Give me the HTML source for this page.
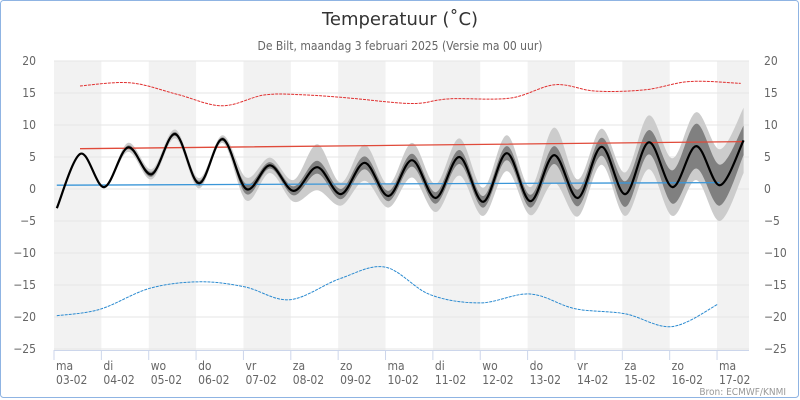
<!DOCTYPE html>
<html><head><meta charset="utf-8"><style>
body{margin:0;background:#fff}
svg{display:block;font-family:"DejaVu Sans Condensed","DejaVu Sans","Liberation Sans",sans-serif}
</style></head><body>
<svg id="chart" width="800" height="400" viewBox="0 0 800 400">
<rect x="0.5" y="0.5" width="798" height="397" rx="3" fill="#fff" stroke="#8fb4e3"/>
<text x="400" y="25" text-anchor="middle" font-size="18" fill="#333" font-family="DejaVu Sans, sans-serif">Temperatuur (˚C)</text>
<text x="400" y="50" text-anchor="middle" font-size="12" fill="#666">De Bilt, maandag 3 februari 2025 (Versie ma 00 uur)</text>
<g id="bands"></g><g id="grid"></g><g id="series"></g><g id="axes"></g>
<text x="786" y="395" text-anchor="end" font-size="10" fill="#999">Bron: ECMWF/KNMI</text>
</svg>
<script>
const dayNames=["ma","di","wo","do","vr","za","zo","ma","di","wo","do","vr","za","zo","ma"];
const dates=["03-02","04-02","05-02","06-02","07-02","08-02","09-02","10-02","11-02","12-02","13-02","14-02","15-02","16-02","17-02"];
const yTicks=[20,15,10,5,0,-5,-10,-15,-20,-25];
const meanTimes=[0.06,0.56,1.06,1.56,2.06,2.56,3.06,3.56,4.06,4.56,5.06,5.56,6.06,6.56,7.06,7.56,8.06,8.56,9.06,9.56,10.06,10.56,11.06,11.56,12.06,12.56,13.06,13.56,14.06,14.56];
const meanVals=[-3.0,5.5,0.3,6.5,2.3,8.6,0.9,7.8,0.0,3.7,-0.3,3.4,-0.8,4.1,-1.1,4.5,-1.4,5.0,-2.0,5.6,-1.9,5.3,-1.4,6.6,-0.8,7.3,0.3,6.7,0.6,7.6];
const outerSpread=[0,0,0.2,0.7,0.8,0.7,0.8,0.6,1.8,1.2,1.7,3.6,1.8,2.8,1.8,2.7,2.2,2.9,2.2,2.8,2.2,4.3,2.9,2.8,3.4,4.2,4.5,5.3,5.6,5.1];
const innerSpread=[0,0,0.1,0.3,0.4,0.3,0.4,0.3,0.8,0.5,0.7,1.0,0.8,1.0,0.8,1.0,0.9,1.1,0.9,1.1,1.0,1.4,1.3,1.4,2.0,1.9,2.6,3.5,3.2,2.3];
const normMaxTimes=[0.55,14.55];const normMaxVals=[6.3,7.4];
const normMinTimes=[0.06,14.05];const normMinVals=[0.6,1.0];
const recMaxTimes=[0.55,1.6,2.6,3.55,4.45,5.3,6.25,7.2,7.73,8.36,9.63,10.58,11.43,12.48,13.43,14.5];
const recMaxVals=[16.1,16.6,14.8,13.0,14.7,14.7,14.2,13.5,13.4,14.1,14.2,16.3,15.3,15.5,16.8,16.5];
const recMinTimes=[0.06,0.97,2.03,3.08,4.03,4.98,6.04,6.99,7.94,9.0,10.05,11.0,12.06,13.05,14.02];
const recMinVals=[-19.8,-18.8,-15.5,-14.5,-15.3,-17.3,-14.0,-12.2,-16.5,-17.8,-16.4,-18.7,-19.5,-21.5,-18.0];

const X0=54,DW=47.36,XR=749;
const xs=d=>X0+d*DW, ys=v=>189-v*6.4;
const NS="http://www.w3.org/2000/svg";
function mk(tag,attrs,parent){const e=document.createElementNS(NS,tag);for(const k in attrs)e.setAttribute(k,attrs[k]);document.getElementById(parent).appendChild(e);return e;}
function spline(pts){let d="M"+pts[0][0].toFixed(1)+","+pts[0][1].toFixed(1);
 for(let i=0;i<pts.length-1;i++){const p0=pts[Math.max(0,i-1)],p1=pts[i],p2=pts[i+1],p3=pts[Math.min(pts.length-1,i+2)];
 const c1=[p1[0]+(p2[0]-p0[0])/6,p1[1]+(p2[1]-p0[1])/6],c2=[p2[0]-(p3[0]-p1[0])/6,p2[1]-(p3[1]-p1[1])/6];
 d+="C"+c1[0].toFixed(1)+","+c1[1].toFixed(1)+" "+c2[0].toFixed(1)+","+c2[1].toFixed(1)+" "+p2[0].toFixed(1)+","+p2[1].toFixed(1);}return d;}
function pts(t,v){return t.map((d,i)=>[xs(d),ys(v[i])]);}

for(let i=0;i<15;i+=2){const x=xs(i),w=Math.min(DW,XR-x);
 const r=mk("rect",{x:x,y:61,width:w,height:289,fill:"#f2f2f2"},"bands");
 
 }
yTicks.forEach(v=>{const y=ys(v);
 const l=mk("line",{x1:X0,x2:XR,y1:y,y2:y,stroke:"#e6e6e6"},"grid");
 
 
 const lab=v<0?"\u2212"+(-v):""+v;
 const a=mk("text",{x:36,y:y+4,"text-anchor":"end","font-size":12,fill:"#666"},"axes");a.textContent=lab;
 
 
 const b=mk("text",{x:764,y:y+4,"font-size":12,fill:"#666"},"axes");b.textContent=lab;
 
 });
const ax=mk("line",{x1:X0,x2:XR,y1:350.5,y2:350.5,stroke:"#ccd6eb"},"axes");


dates.forEach((d,i)=>{const x=xs(i);
 const t=mk("line",{x1:x,x2:x,y1:350,y2:360,stroke:"#ccd6eb"},"axes");
 
 
 const a=mk("text",{x:x+2,y:370,"font-size":12,fill:"#666"},"axes");a.textContent=dayNames[i];
 
 
 const b=mk("text",{x:x+2,y:384,"font-size":12,fill:"#666"},"axes");b.textContent=d;
 
 });
function band(spread,fill,name){const up=meanTimes.map((t,i)=>[xs(t),ys(meanVals[i]+spread[i])]);
 const lo=meanTimes.map((t,i)=>[xs(t),ys(meanVals[i]-spread[i])]).reverse();
 const d=spline(up)+"L"+spline(lo).slice(1)+"Z";
 const p=mk("path",{d:d,fill:fill},"series");
 
 }
band(outerSpread,"#cccccc","outer-spread-band");
band(innerSpread,"#808080","inner-spread-band");
function line(t,v,color,w,dash,name){const p=mk("path",{d:spline(pts(t,v)),fill:"none",stroke:color,"stroke-width":w},"series");
 if(dash)p.setAttribute("stroke-dasharray",dash);
 
 }
line(recMaxTimes,recMaxVals,"#e03030",1,"3,1","record-max-line");
line(recMinTimes,recMinVals,"#2a8ad0",1,"3,1","record-min-line");
line(normMaxTimes,normMaxVals,"#e04a3a",1.3,null,"normal-max-line");
line(normMinTimes,normMinVals,"#3a96d8",1.3,null,"normal-min-line");
line(meanTimes,meanVals,"#000",2.2,null,"mean-temperature-line");
</script>
</body></html>
